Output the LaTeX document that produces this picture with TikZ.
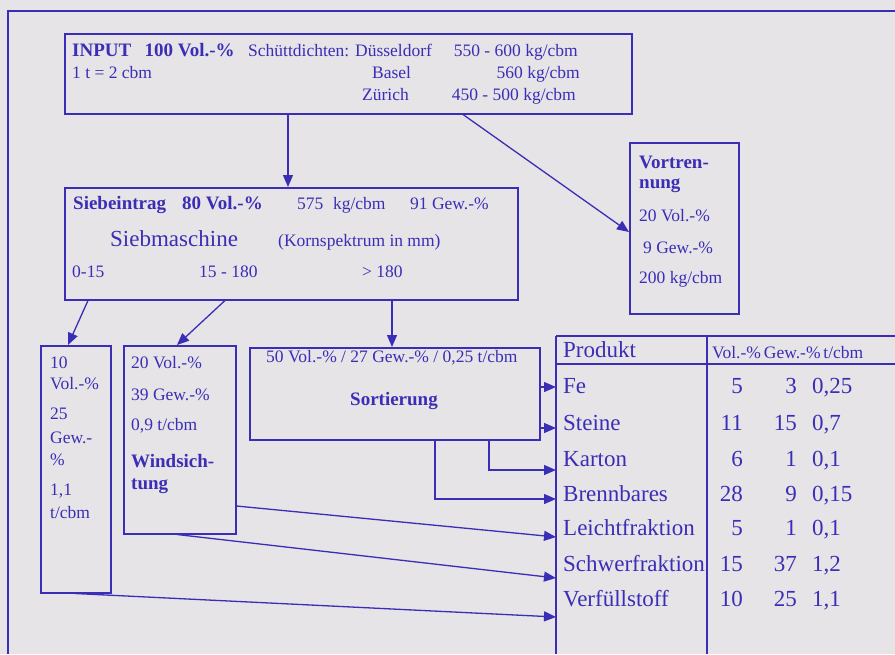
\documentclass[tikz,border=0pt]{standalone}
\usepackage{fontspec}
\setmainfont{Liberation Serif}
\usetikzlibrary{arrows.meta}
\definecolor{ink}{RGB}{58,46,182}
\definecolor{paper}{RGB}{230,228,231}
\begin{document}
\begin{tikzpicture}[x=1pt,y=-1pt,
  box/.style={draw=ink,line width=1.5pt,inner sep=0pt,anchor=north west},
  arr/.style={draw=ink,line width=1.3pt,-{Triangle[length=12pt,width=10pt]}},
  tabline/.style={draw=ink,line width=1.5pt},
  tx/.style={text=ink,inner sep=0pt,anchor=base west,font=\fontsize{17.5}{20}\selectfont},
  txr/.style={tx,anchor=base east},
  txb/.style={tx,font=\fontsize{19}{22}\selectfont\bfseries},
  tab/.style={tx,font=\fontsize{23}{26}\selectfont},
  tabr/.style={tab,anchor=base east}]
\fill[paper] (0,0) rectangle (895,654);
\useasboundingbox (0,0) rectangle (895,654);
% outer frame
\draw[ink,line width=2.5pt] (895,11) -- (8,11) -- (8,654);
% boxes
\node[box,minimum width=567pt,minimum height=80pt] (input) at (64,33) {};
\node[box,minimum width=453pt,minimum height=112pt] (sieb) at (64,187) {};
\node[box,minimum width=109pt,minimum height=171pt] (vor) at (629,142) {};
\node[box,minimum width=70pt,minimum height=247pt] (b1) at (40,345) {};
\node[box,minimum width=112pt,minimum height=188pt] (b2) at (123,345) {};
\node[box,minimum width=290pt,minimum height=92pt] (sort) at (249,347) {};
% table frame
\coordinate (tabL) at (556,336);
\draw[tabline] (556,336) -- (895,336);
\draw[tabline] (556,364) -- (895,364);
\draw[tabline] (556,336) -- (556,654);
\draw[tabline] (707,336) -- (707,654);
% INPUT texts
\node[txb] (in1) at (72,56) {INPUT\hspace{0.7em}100 Vol.-\%};
\node[tx] (in2) at (248,56) {Schüttdichten: Düsseldorf};
\node[txr] (in3) at (578,56) {550 - 600 kg/cbm};
\node[tx] (in4) at (72,78) {1 t = 2 cbm};
\node[tx] (in5) at (372,78) {Basel};
\node[txr] (in6) at (580,78) {560 kg/cbm};
\node[tx] (in7) at (362,100) {Zürich};
\node[txr] (in8) at (576,100) {450 - 500 kg/cbm};
% Siebeintrag texts
\node[txb] (s1) at (73,209) {Siebeintrag};
\node[txb] (s2) at (182,209) {80 Vol.-\%};
\node[tx] (s3) at (297,209) {575\hspace{0.3em} kg/cbm};
\node[tx] (s4) at (410,209) {91 Gew.-\%};
\node[tx,font=\fontsize{23}{26}\selectfont] (s5) at (110,246) {Siebmaschine};
\node[tx] (s6) at (278,246) {(Kornspektrum in mm)};
\node[tx] (s7) at (72,277) {0-15};
\node[tx] (s8) at (199,277) {15 - 180};
\node[tx] (s9) at (362,277) {> 180};
% Vortrennung
\node[txb] (v1) at (639,168) {Vortren-};
\node[txb] (v2) at (639,188) {nung};
\node[tx] (v3) at (639,221) {20 Vol.-\%};
\node[tx] (v4) at (643,253) {9 Gew.-\%};
\node[tx] (v5) at (639,283) {200 kg/cbm};
% box 1
\node[tx] (a1) at (50,368) {10};
\node[tx] (a2) at (50,389) {Vol.-\%};
\node[tx] (a3) at (50,419) {25};
\node[tx] (a4) at (50,443) {Gew.-};
\node[tx] (a5) at (50,465) {\%};
\node[tx] (a6) at (50,495) {1,1};
\node[tx] (a7) at (50,518) {t/cbm};
% box 2
\node[tx] (w1) at (131,368) {20 Vol.-\%};
\node[tx] (w2) at (131,400) {39 Gew.-\%};
\node[tx] (w3) at (131,430) {0,9 t/cbm};
\node[txb] (w4) at (131,467) {Windsich-};
\node[txb] (w5) at (131,489) {tung};
% Sortierung
\node[tx] (o1) at (266,362) {50 Vol.-\% / 27 Gew.-\% / 0,25 t/cbm};
\node[txb] (o2) at (350,405) {Sortierung};
% table
\node[tab] (hp) at (563,357) {Produkt};
\node[tx] (hv) at (712,358) {Vol.-\%\,Gew.-\%\,t/cbm};
\foreach \n/\y/\p/\a/\b/\c in {fe/393/Fe/5/3/{0,25},st/430/Steine/11/15/{0,7},ka/466/Karton/6/1/{0,1},br/501/Brennbares/28/9/{0,15},le/535/Leichtfraktion/5/1/{0,1},sc/571/Schwerfraktion/15/37/{1,2},ve/606/Verfüllstoff/10/25/{1,1}}{
  \node[tab] (p\n) at (563,\y) {\p};
  \node[tabr] (v\n) at (743,\y) {\a};
  \node[tabr] (g\n) at (797,\y) {\b};
  \node[tab] (d\n) at (812,\y) {\c};
}
% connectors
\draw[arr] (input.south -| 288,0) -- (sieb.north -| 288,0);
\draw[arr] (input.south -| 463,0) -- (vor.west |- 0,232);
\draw[arr] (sieb.south -| 88,0) -- (b1.north -| 68,0);
\draw[arr] (sieb.south -| 225,0) -- (b2.north -| 177,0);
\draw[arr] (sieb.south -| 392,0) -- (sort.north -| 392,0);
\draw[arr] (sort.east |- 0,387) -- (tabL |- 0,387);
\draw[arr] (sort.east |- 0,428) -- (tabL |- 0,428);
\draw[arr] (sort.south -| 489,0) |- (tabL |- 0,470);
\draw[arr] (sort.south -| 435,0) |- (tabL |- 0,499);
\draw[arr] (b2.east |- 0,506) -- (tabL |- 0,537);
\draw[arr] (b2.south -| 177,0) -- (tabL |- 0,578);
\draw[arr] (b1.south -| 75,0) -- (tabL |- 0,617);
\end{tikzpicture}
\end{document}
